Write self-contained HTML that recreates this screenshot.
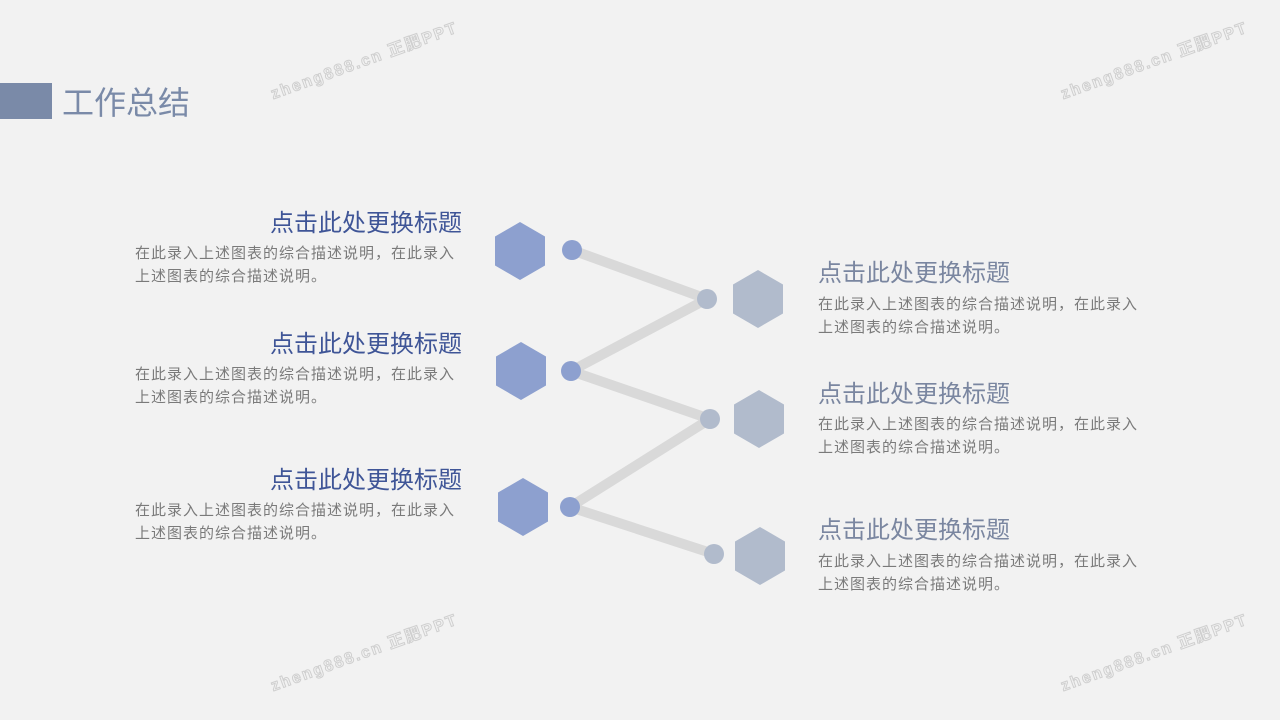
<!DOCTYPE html>
<html><head><meta charset="utf-8"><style>
body{margin:0;width:1280px;height:720px;background:#f2f2f2;position:relative;overflow:hidden;font-family:"Liberation Sans","Noto Sans CJK SC",sans-serif}
.t{position:absolute;font-size:24px;white-space:nowrap;line-height:30px}
.l{right:818px;color:#3f5597;text-align:right}
.r{left:818px;color:#7a86a0}
.d{position:absolute;font-size:15px;color:#7a7a7a;line-height:23px;white-space:nowrap;letter-spacing:1px}
.wm{position:absolute;font-size:16px;color:#f2f2f2;-webkit-text-stroke:1px #cfcfcf;letter-spacing:2px;transform:rotate(-20deg);transform-origin:left bottom;white-space:nowrap;font-weight:bold}
</style></head><body>
<div style="position:absolute;left:0;top:83px;width:52px;height:36px;background:#7a8aa8"></div>
<div style="position:absolute;left:62px;top:83px;font-size:32px;color:#7a8aa8;line-height:40px">工作总结</div>
<div class="wm" style="left:275px;top:80px">zheng888.cn 正肥PPT</div>
<div class="wm" style="left:1065px;top:80px">zheng888.cn 正肥PPT</div>
<div class="wm" style="left:275px;top:672px">zheng888.cn 正肥PPT</div>
<div class="wm" style="left:1065px;top:672px">zheng888.cn 正肥PPT</div>
<svg width="1280" height="720" style="position:absolute;left:0;top:0">
<g stroke="#d9d9d9" stroke-width="10" stroke-linecap="round">
<line x1="572" y1="250" x2="707" y2="299"/><line x1="707" y1="299" x2="571" y2="371"/>
<line x1="571" y1="371" x2="710" y2="419"/><line x1="710" y1="419" x2="570" y2="507"/>
<line x1="570" y1="507" x2="714" y2="554"/></g>
<g fill="#8da0cf">
<polygon points="520,222 545,236.5 545,265.5 520,280 495,265.5 495,236.5"/>
<polygon points="521,342 546,356.5 546,385.5 521,400 496,385.5 496,356.5"/>
<polygon points="523,478 548,492.5 548,521.5 523,536 498,521.5 498,492.5"/>
<circle cx="572" cy="250" r="10"/><circle cx="571" cy="371" r="10"/><circle cx="570" cy="507" r="10"/></g>
<g fill="#b1bbcc">
<polygon points="758,270 783,284.5 783,313.5 758,328 733,313.5 733,284.5"/>
<polygon points="759,390 784,404.5 784,433.5 759,448 734,433.5 734,404.5"/>
<polygon points="760,527 785,541.5 785,570.5 760,585 735,570.5 735,541.5"/>
<circle cx="707" cy="299" r="10"/><circle cx="710" cy="419" r="10"/><circle cx="714" cy="554" r="10"/></g>
</svg>
<div class="t l" style="top:209px">点击此处更换标题</div>
<div class="d" style="left:135px;top:242px">在此录入上述图表的综合描述说明，在此录入<br>上述图表的综合描述说明。</div>
<div class="t l" style="top:330px">点击此处更换标题</div>
<div class="d" style="left:135px;top:363px">在此录入上述图表的综合描述说明，在此录入<br>上述图表的综合描述说明。</div>
<div class="t l" style="top:466px">点击此处更换标题</div>
<div class="d" style="left:135px;top:499px">在此录入上述图表的综合描述说明，在此录入<br>上述图表的综合描述说明。</div>
<div class="t r" style="top:259px">点击此处更换标题</div>
<div class="d" style="left:818px;top:293px">在此录入上述图表的综合描述说明，在此录入<br>上述图表的综合描述说明。</div>
<div class="t r" style="top:380px">点击此处更换标题</div>
<div class="d" style="left:818px;top:413px">在此录入上述图表的综合描述说明，在此录入<br>上述图表的综合描述说明。</div>
<div class="t r" style="top:516px">点击此处更换标题</div>
<div class="d" style="left:818px;top:550px">在此录入上述图表的综合描述说明，在此录入<br>上述图表的综合描述说明。</div>
</body></html>
